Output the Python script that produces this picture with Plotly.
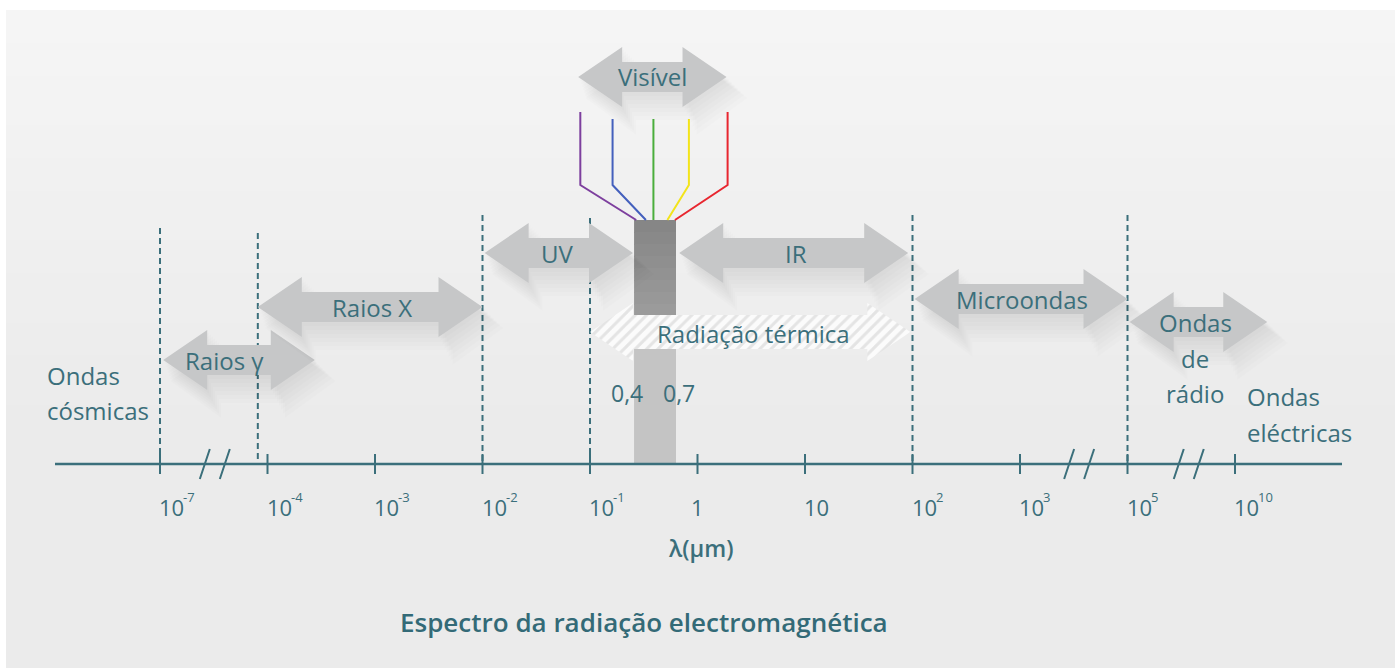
import plotly.graph_objects as go

# ---------------- data ----------------
tick_slots = [0, 1, 2, 3, 4, 5, 6, 7, 8, 9, 10]
tick_base = ["10", "10", "10", "10", "10", "1", "10", "10", "10", "10", "10"]
tick_exp = ["-7", "-4", "-3", "-2", "-1", "", "", "2", "3", "5", "10"]

# spectral bands (positions in tick-slot units along the log axis)
band_names = ["Raios γ", "Raios X", "UV", "Visível", "IR", "Microondas", "Ondas"]
band_start = [0.03, 0.91, 3.02, 3.89, 4.83, 7.02, 9.02]
band_end = [1.44, 3.00, 4.40, 5.27, 6.96, 9.00, 10.30]
band_row = [360, 307, 253, 77, 253, 299, 322]

thermal_name = "Radiação térmica"
thermal_start, thermal_end, thermal_row = 4.0, 6.98, 332

visible_start, visible_end = 4.41, 4.80   # 0,4 - 0,7 µm
visible_marks = ["0,4", "0,7"]

boundary_slots = [0, 0.91, 3, 4, 7, 9]
boundary_tops = [228, 233, 215, 218, 215, 215]

break_slots = [0.51, 8.55, 9.57]

colour_hex = ["#7d3f9e", "#4460bd", "#4aae3c", "#f3e41a", "#e8262f"]
colour_top_slot = [3.91, 4.21, 4.59, 4.92, 5.28]
colour_end_slot = [4.43, 4.52, 4.59, 4.72, 4.79]
colour_top_row = [112, 119, 119, 119, 112]

# ---------------- styling helpers ----------------
PX = 107.5          # pixels per slot
ORIGIN = 160        # pixel position of slot 0
W, H = 1395, 668
TEAL = "#3b6f7b"
ARROW = "#c6c7c8"
FONT = "Open Sans"
AXIS_Y = 464


def px(v):
    return v / PX


fig = go.Figure()

# background gradient panel
n = 40
top_c, bot_c = (245, 245, 245), (235, 235, 235)
for i in range(n):
    t = min(1.0, (i / (n - 1)) * 1.6)
    c = tuple(int(round(top_c[k] + (bot_c[k] - top_c[k]) * t)) for k in range(3))
    y0 = 10 + (H - 10) * i / n
    y1 = 10 + (H - 10) * (i + 1) / n + 1
    fig.add_shape(type="rect", xref="x", yref="y",
                  x0=px(6 - ORIGIN), x1=px(W - ORIGIN), y0=y0, y1=min(y1, H),
                  fillcolor="rgb(%d,%d,%d)" % c, line_width=0, layer="below")


def arrow_xy(x0, x1, yc, hl=44, hh=30, bh=15, dx=0, dy=0, grow=0):
    h = px(hl)
    g = px(grow)
    X = [x0 - g, x0 + h, x0 + h, x1 - h, x1 - h, x1 + g, x1 - h, x1 - h, x0 + h, x0 + h, x0 - g]
    Y = [yc, yc - hh - grow, yc - bh - grow, yc - bh - grow, yc - hh - grow, yc,
         yc + hh + grow, yc + bh + grow, yc + bh + grow, yc + hh + grow, yc]
    return [v + px(dx) for v in X], [v + dy for v in Y]


def add_shadow(x0, x1, yc):
    for k in range(1, 8):
        X, Y = arrow_xy(x0, x1, yc, dx=2 * k, dy=3 * k, grow=k)
        fig.add_trace(go.Scatter(x=X, y=Y, fill="toself", mode="none",
                                 fillcolor="rgba(0,0,0,0.011)", hoverinfo="skip",
                                 showlegend=False))


# dashed boundary lines
for s, top in zip(boundary_slots, boundary_tops):
    fig.add_trace(go.Scatter(x=[s, s], y=[top, AXIS_Y], mode="lines",
                             line=dict(color=TEAL, width=2, dash="6px,4px"),
                             hoverinfo="skip", showlegend=False))

# visible band bar
fig.add_trace(go.Scatter(x=[visible_start, visible_end, visible_end, visible_start, visible_start],
                         y=[348, 348, AXIS_Y, AXIS_Y, 348], fill="toself", mode="none",
                         fillcolor="#c4c4c4", hoverinfo="skip", showlegend=False))
for i in range(8):
    c = 0x86 + i * 3
    y0 = 220 + i * 12
    fig.add_trace(go.Scatter(x=[visible_start, visible_end, visible_end, visible_start, visible_start],
                             y=[y0, y0, y0 + 13, y0 + 13, y0], fill="toself", mode="none",
                             fillcolor="rgb(%d,%d,%d)" % (c, c, c), hoverinfo="skip",
                             showlegend=False))

# colour lines fanning into the visible bar
for col, t, e, ytop in zip(colour_hex, colour_top_slot, colour_end_slot, colour_top_row):
    fig.add_trace(go.Scatter(x=[t, t, e], y=[ytop, 185, 220],
                             mode="lines", line=dict(color=col, width=2),
                             hoverinfo="skip", showlegend=False))

# band arrows
for name, s, e, r in zip(band_names, band_start, band_end, band_row):
    add_shadow(s, e, r)
    X, Y = arrow_xy(s, e, r)
    fig.add_trace(go.Scatter(x=X, y=Y, fill="toself", mode="none", fillcolor=ARROW,
                             hoverinfo="skip", showlegend=False, name=name))

# thermal radiation (hatched arrow)
X, Y = arrow_xy(thermal_start, thermal_end, thermal_row, hl=43, hh=29, bh=17)
fig.add_trace(go.Scatter(x=X, y=Y, fill="toself", mode="none", fillcolor="#ffffff",
                         fillpattern=dict(shape="/", fgcolor="#cdcdcd", bgcolor="#fbfbfb",
                                          size=8, solidity=0.38),
                         hoverinfo="skip", showlegend=False, name=thermal_name))

# axis line, ticks and break marks
fig.add_trace(go.Scatter(x=[px(55 - ORIGIN), px(1342 - ORIGIN)], y=[AXIS_Y, AXIS_Y], mode="lines",
                         line=dict(color=TEAL, width=2.5), hoverinfo="skip", showlegend=False))
tx, ty = [], []
for s in tick_slots:
    tx += [s, s, None]
    ty += [AXIS_Y - 10, AXIS_Y + 10, None]
fig.add_trace(go.Scatter(x=tx, y=ty, mode="lines", line=dict(color=TEAL, width=2),
                         hoverinfo="skip", showlegend=False))
bx, by = [], []
for s in break_slots:
    for off in (-10, 10):
        bx += [s + px(off - 5), s + px(off + 5), None]
        by += [AXIS_Y + 15, AXIS_Y - 15, None]
fig.add_trace(go.Scatter(x=bx, y=by, mode="lines", line=dict(color=TEAL, width=2),
                         hoverinfo="skip", showlegend=False))

# ---------------- text ----------------
ann = []


def label(x, y, text, size=25, xanchor="center", weight="normal", color=TEAL):
    ann.append(dict(x=x, y=y, xref="x", yref="y", text=text,
                    showarrow=False, xanchor=xanchor, yanchor="middle",
                    font=dict(family=FONT, size=size, color=color, weight=weight)))


for s, b, e in zip(tick_slots, tick_base, tick_exp):
    if len(b) == 1:
        label(s, 507, b, size=22)
    else:
        label(s - px(3), 507, b, size=22, xanchor="left")
        if e:
            label(s + px(21), 497, e, size=13, xanchor="left")

label_centre = {"Raios γ": (0.60, 360), "Raios X": (1.97, 307), "UV": (3.69, 253),
                "Visível": (4.58, 76), "IR": (5.92, 253), "Microondas": (8.02, 299)}
for name in band_names[:-1]:
    x, y = label_centre[name]
    label(x, y, name, size=24)
label(5.52, 333, thermal_name, size=24)
for t, y in zip(["Ondas", "de", "rádio"], [322, 358, 393]):
    label(px(1195 - ORIGIN), y, t, size=24)
for t, y in zip(["Ondas", "cósmicas"], [375, 410]):
    label(px(45 - ORIGIN), y, t, size=24, xanchor="left")
for t, y in zip(["Ondas", "eléctricas"], [396, 432]):
    label(px(1245 - ORIGIN), y, t, size=24, xanchor="left")
label(px(627 - ORIGIN), 393, visible_marks[0], size=23)
label(px(679 - ORIGIN), 393, visible_marks[1], size=23)
label(px(700 - ORIGIN), 548, "λ(µm)", size=23, weight=600)
label(px(644 - ORIGIN), 622, "Espectro da radiação electromagnética", size=26, weight=600,
      color="#336a77")

fig.update_layout(
    width=W, height=H, margin=dict(l=0, r=0, t=0, b=0),
    paper_bgcolor="#ffffff", plot_bgcolor="rgba(0,0,0,0)",
    xaxis=dict(range=[px(0 - ORIGIN), px(W - ORIGIN)], visible=False, fixedrange=True),
    yaxis=dict(range=[H, 0], visible=False, fixedrange=True),
    annotations=ann, showlegend=False,
)

fig.write_html("out.html", config={"displayModeBar": False},
               post_script="document.body.style.margin='0px';")
